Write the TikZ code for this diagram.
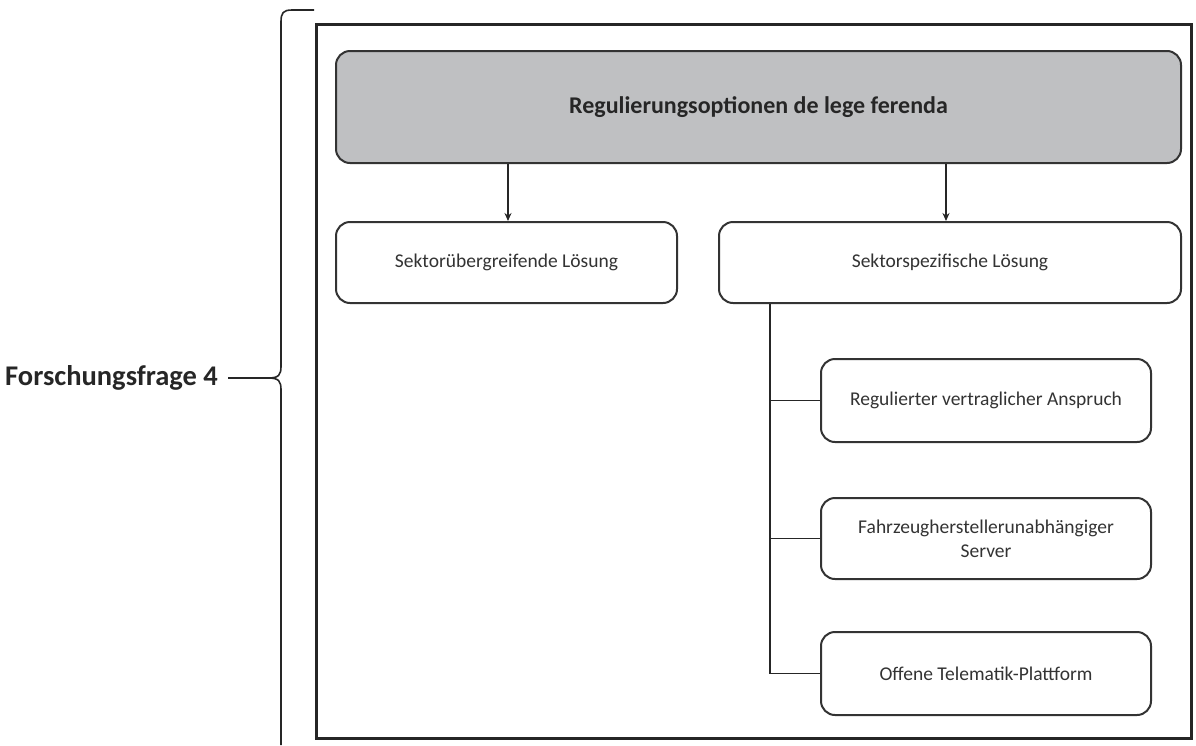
\documentclass[tikz,border=0pt]{standalone}
\usepackage{fontspec}
\setmainfont{Carlito}
\usetikzlibrary{arrows.meta}
\begin{document}
\begin{tikzpicture}[x=1pt,y=-1pt,
  box/.style={draw=black!80, line width=2pt, rounded corners=14pt, fill=white, inner sep=0pt, anchor=north west},
  head/.style={box, fill=headgray},
  conn/.style={draw=black!85, line width=1.8pt},
  arr/.style={conn, -{Stealth[length=8pt,width=7pt]}},
  txt/.style={font=\fontsize{19.5}{24}\selectfont, align=center, text=black!80}
]
\definecolor{headgray}{HTML}{BFC0C2}
\useasboundingbox (0,0) rectangle (1196,745);
% outer frame
\draw[line width=3pt, black!85] (316,24) rectangle (1191,738);
% brace
\draw[line width=1.6pt, black!85] (314,10) -- (292,10) .. controls (283,10) and (281,13) .. (281,22) -- (281,366) .. controls (281,375) and (279,378) .. (268,378)
  .. controls (279,378) and (281,381) .. (281,390) -- (281,745);
\node[font=\fontsize{28.5}{32}\selectfont\bfseries, anchor=west, text=black!85, inner sep=0pt] (ff) at (5,378) {Forschungsfrage 4};
\coordinate (bt) at (268,378);
\draw[line width=1.6pt, black!85] (ff.east) ++(10pt,0) coordinate (ffe) -- (bt);
% header
\node[head, minimum width=845pt, minimum height=112pt] (h) at (335,50) {};
\node[font=\fontsize{24}{28}\selectfont\bfseries, text=black!85] at (h.center) {Regulierungsoptionen de lege ferenda};
% level 2
\node[box, minimum width=341pt, minimum height=81pt] (a) at (335,221) {};
\node[txt] at (a.center) {Sektorübergreifende Lösung};
\node[box, minimum width=462pt, minimum height=81pt] (b) at (718,221) {};
\node[txt] at (b.center) {Sektorspezifische Lösung};
\draw[arr] (h.south -| 508,0) -- (a.north -| 508,0);
\draw[arr] (h.south -| 946,0) -- (b.north -| 946,0);
% level 3
\node[box, minimum width=330pt, minimum height=83pt] (c1) at (820,358) {};
\node[txt] at (c1.center) {Regulierter vertraglicher Anspruch};
\node[box, minimum width=330pt, minimum height=81pt] (c2) at (820,497) {};
\node[txt] at (c2.center) {Fahrzeugherstellerunabhängiger\\Server};
\node[box, minimum width=330pt, minimum height=83pt] (c3) at (820,631) {};
\node[txt] at (c3.center) {Offene Telematik-Plattform};
\coordinate (trunk) at (770,0);
\draw[conn] (b.south -| trunk) -- (trunk |- c3.west) -- (c3.west);
\draw[conn] (trunk |- c1.west) -- (c1.west);
\draw[conn] (trunk |- c2.west) -- (c2.west);
\end{tikzpicture}
\end{document}
